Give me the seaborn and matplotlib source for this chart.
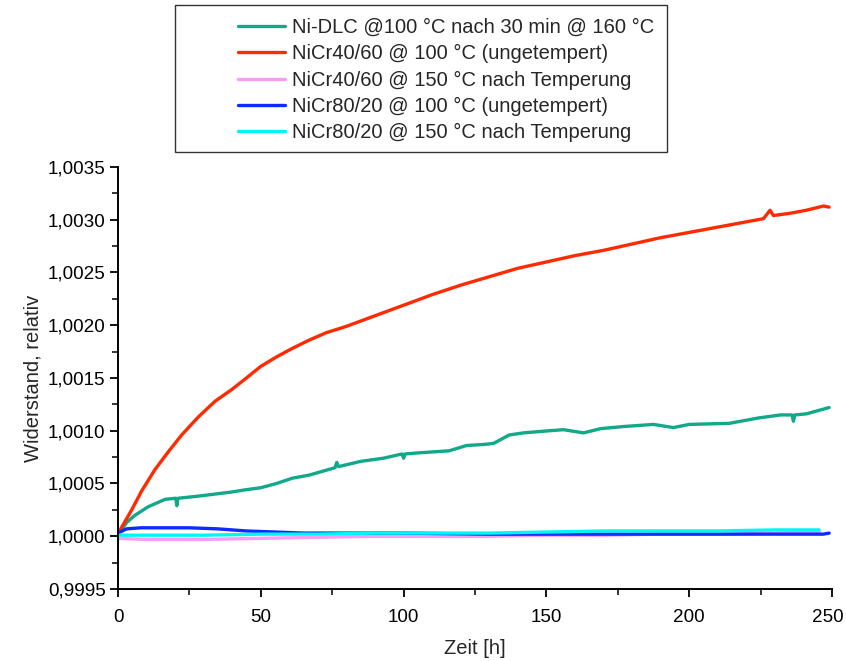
import matplotlib
matplotlib.use("Agg")
import matplotlib.pyplot as plt
import matplotlib.ticker as mticker
from matplotlib.patches import Rectangle
from matplotlib.transforms import ScaledTranslation
import seaborn as sns

# Widerstand (relativ) ueber der Zeit
labels = [
    "Ni-DLC @100 °C nach 30 min @ 160 °C",
    "NiCr40/60 @ 100 °C (ungetempert)",
    "NiCr40/60 @ 150 °C nach Temperung",
    "NiCr80/20 @ 100 °C (ungetempert)",
    "NiCr80/20 @ 150 °C nach Temperung",
]
colors = ["#12a88a", "#ff2a00", "#f59cf5", "#0a2cff", "#00f5f5"]
x_ticks = [0, 50, 100, 150, 200, 250]

dlc_h = [0, 1.2, 3, 6, 10.6, 16.5, 20.2, 20.6, 21, 28, 34, 40, 44.5, 50, 55.5, 61,
         67, 76, 76.6, 77.2, 85, 93, 99.5, 100, 100.5, 105, 116, 122, 128, 131.5,
         137, 142, 151, 156, 163, 169, 177, 187.5, 194.5, 200, 214, 224, 232, 236,
         236.5, 237, 241, 249]
dlc_r = [1.00003, 1.00006, 1.00013, 1.00020, 1.00028, 1.00035, 1.00036, 1.00029,
         1.00036, 1.00038, 1.00040, 1.00042, 1.00044, 1.00046, 1.00050, 1.00055,
         1.00058, 1.00065, 1.00070, 1.00066, 1.00071, 1.00074, 1.00078, 1.00074,
         1.00078, 1.00079, 1.00081, 1.00086, 1.00087, 1.00088, 1.00096, 1.00098,
         1.00100, 1.00101, 1.00098, 1.00102, 1.00104, 1.00106, 1.00103, 1.00106,
         1.00107, 1.00112, 1.00115, 1.00115, 1.00109, 1.00115, 1.00116, 1.00122]

nicr46_100_h = [0, 4.8, 8.3, 12.9, 17.6, 22.3, 28.1, 34, 39.8, 44.5, 50, 55.5, 61,
                67, 73, 80, 90, 100, 110, 120, 130, 140, 150, 160, 170, 180, 190,
                200, 210, 220, 226, 228.3, 229.5, 235, 241, 247, 249]
nicr46_100_r = [1.000025, 1.00025, 1.00043, 1.00063, 1.00080, 1.00096, 1.00113,
                1.00128, 1.00139, 1.00149, 1.00161, 1.00170, 1.00178, 1.00186,
                1.00193, 1.00199, 1.00209, 1.00219, 1.00229, 1.00238, 1.00246,
                1.00254, 1.00260, 1.00266, 1.00271, 1.00277, 1.00283, 1.00288,
                1.00293, 1.00298, 1.00301, 1.00309, 1.00304, 1.00306, 1.00309,
                1.00313, 1.00312]

nicr46_150_h = [0, 10, 30, 50, 70, 90, 110, 130, 150, 170, 190, 210, 230, 245.5]
nicr46_150_r = [0.99998, 0.99997, 0.99997, 0.99998, 0.99999, 1.00000, 1.00000,
                1.00000, 1.00001, 1.00001, 1.00002, 1.00002, 1.00003, 1.00004]

nicr82_100_h = [0, 3, 8, 15, 25, 35, 45, 55, 65, 80, 100, 130, 160, 200, 230, 247, 249]
nicr82_100_r = [1.00003, 1.00007, 1.00008, 1.00008, 1.00008, 1.00007, 1.00005,
                1.00004, 1.00003, 1.00003, 1.00003, 1.00002, 1.00002, 1.00002,
                1.00002, 1.00002, 1.00003]

nicr82_150_h = [0, 10, 30, 50, 70, 90, 110, 130, 150, 170, 190, 210, 230, 245.5]
nicr82_150_r = [1.00001, 1.00001, 1.00001, 1.00002, 1.00002, 1.00003, 1.00003,
                1.00003, 1.00004, 1.00005, 1.00005, 1.00005, 1.00006, 1.00006]

series = [
    (dlc_h, dlc_r),
    (nicr46_100_h, nicr46_100_r),
    (nicr46_150_h, nicr46_150_r),
    (nicr82_100_h, nicr82_100_r),
    (nicr82_150_h, nicr82_150_r),
]

sns.set_style("ticks")
plt.rcParams["font.family"] = ["Liberation Sans", "DejaVu Sans"]
fs = 14.5
tfs = 13.6

fig = plt.figure(figsize=(8.46, 6.61), dpi=100)
ax = fig.add_axes([118 / 846, 1 - 589 / 661, (832 - 118) / 846, (589 - 167) / 661])

for (h, r), c, lab in zip(series, colors, labels):
    sns.lineplot(x=h, y=r, ax=ax, color=c, linewidth=2.4, label=lab, legend=False)

ax.set_xlim(0, 250)
ax.set_ylim(0.9995, 1.0035)
ax.set_xticks(x_ticks, [str(t) for t in x_ticks])
ax.xaxis.set_minor_locator(mticker.MultipleLocator(25))
ax.yaxis.set_major_locator(mticker.MultipleLocator(0.0005))
ax.yaxis.set_minor_locator(mticker.MultipleLocator(0.00025))
ax.yaxis.set_major_formatter(mticker.FuncFormatter(lambda v, p: f"{v:.4f}".replace(".", ",")))
ax.tick_params(which="major", direction="out", length=6, width=1.3, labelsize=tfs,
               colors="black")
ax.tick_params(axis="y", which="major", pad=3)
ax.tick_params(axis="x", which="major", pad=8.5)
ax.tick_params(which="minor", direction="out", length=4, width=1.3)
sns.despine(ax=ax)
for s in ["left", "bottom"]:
    ax.spines[s].set_linewidth(1.4)
    ax.spines[s].set_color("black")

# letzte Beschriftung etwas nach links, damit sie im Bild bleibt
last = ax.get_xticklabels()[-1]
last.set_transform(last.get_transform() + ScaledTranslation(-0.04, 0, fig.dpi_scale_trans))

ax.set_xlabel("Zeit [h]", fontsize=fs, labelpad=9)
ax.set_ylabel("Widerstand, relativ", fontsize=fs, labelpad=4)

# Legende mit eigenem Rahmen oben
fig.patches.append(Rectangle((175 / 846, 1 - 152 / 661), 492 / 846, 147 / 661,
                             transform=fig.transFigure, fill=False,
                             edgecolor="#333333", linewidth=1.0))
fig.legend(handles=ax.lines, labels=labels, loc="upper left",
           bbox_to_anchor=(238 / 846, 1 - 18 / 661), frameon=False,
           fontsize=fs, borderpad=0, borderaxespad=0, handlelength=2.35,
           handletextpad=0.35, labelspacing=0.36)

fig.savefig("out.png", dpi=100)
